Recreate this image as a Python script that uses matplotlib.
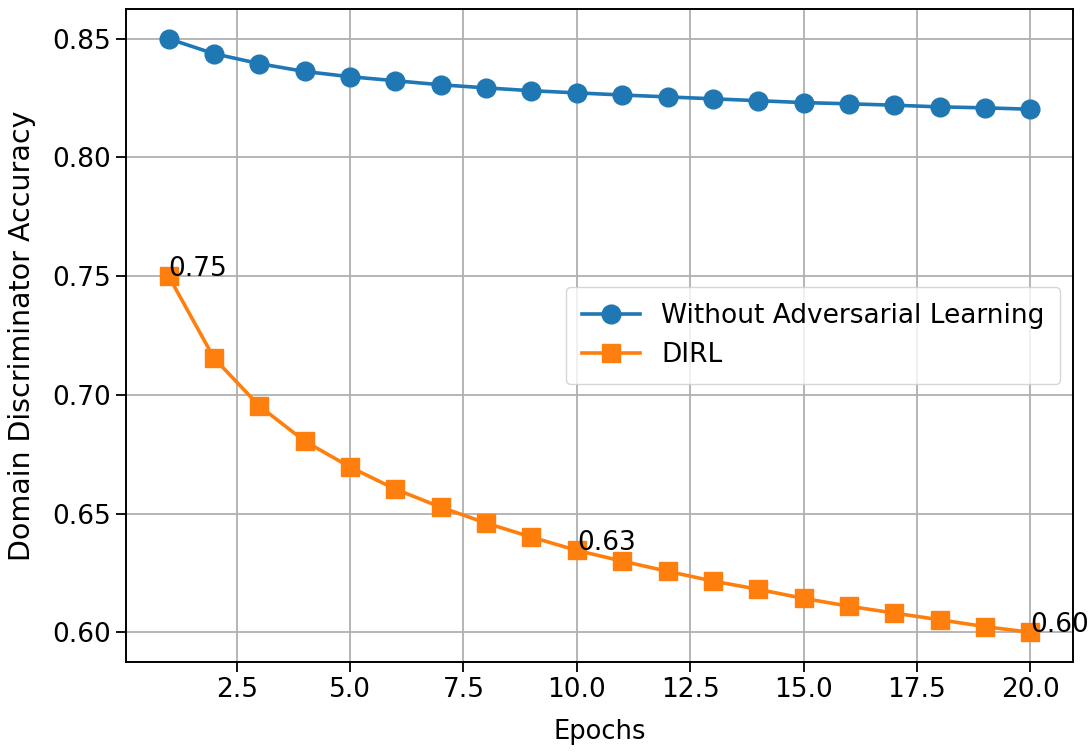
import matplotlib
matplotlib.use("Agg")
import matplotlib.pyplot as plt

epochs = list(range(1, 21))
without_adv = [0.850, 0.8437, 0.8395, 0.8362, 0.8340, 0.8323, 0.8306, 0.8293,
               0.8281, 0.8272, 0.8263, 0.8255, 0.8247, 0.8239, 0.8231, 0.8226,
               0.8220, 0.8213, 0.8209, 0.8203]
dirl = [0.750, 0.7155, 0.6953, 0.6805, 0.6696, 0.6603, 0.6527, 0.6460,
        0.6401, 0.6345, 0.6300, 0.6257, 0.6216, 0.6181, 0.6143, 0.6110,
        0.6081, 0.6053, 0.6024, 0.6000]
labelled = [1, 10, 20]

plt.rcParams['font.size'] = 19
fig = plt.figure(figsize=(10.92, 7.54), dpi=100)
ax = fig.add_axes([0.115, 0.122, 0.868, 0.866])

ax.plot(epochs, without_adv, marker='o', color='#1f77b4', lw=2.6, ms=13.5,
        label='Without Adversarial Learning')
ax.plot(epochs, dirl, marker='s', color='#ff7f0e', lw=2.6, ms=12.5,
        label='DIRL')

# value labels on a few DIRL points
for e in labelled:
    v = dirl[e - 1]
    ax.text(e, v, '%.2f' % v, fontsize=19)

ax.set_xlabel('Epochs', fontsize=18.5, labelpad=12)
ax.set_ylabel('Domain Discriminator Accuracy', fontsize=20.5, labelpad=12)
ax.grid(True, color='#b0b0b0', lw=1.3)
for s in ax.spines.values():
    s.set_linewidth(1.4)
ax.tick_params(width=1.3, length=7)
ax.legend(loc='center right', fontsize=19, borderpad=0.6, handlelength=2.2)

fig.savefig('out.png', dpi=100)
